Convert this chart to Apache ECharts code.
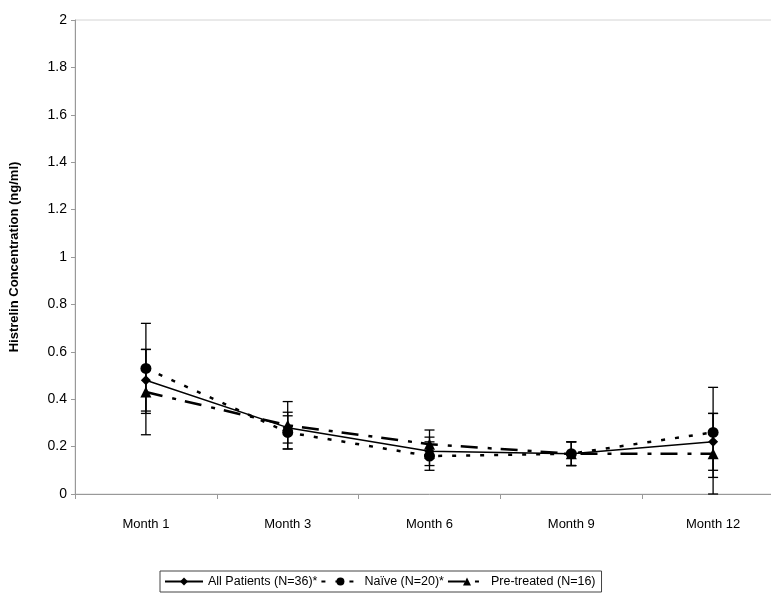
<!DOCTYPE html>
<html>
<head>
<meta charset="utf-8">
<script src="https://cdn.jsdelivr.net/npm/echarts@6/dist/echarts.min.js"></script>
<style>html,body{margin:0;padding:0;background:#fff;overflow:hidden;width:771px;height:599px;}#c{width:790px;height:599px;}</style>
</head>
<body>
<div id="c"></div>
<script>
var categories = ['Month 1', 'Month 3', 'Month 6', 'Month 9', 'Month 12'];
var allPatients = [0.48, 0.28, 0.18, 0.17, 0.22];
var naive = [0.53, 0.26, 0.16, 0.17, 0.26];
var preTreated = [0.43, 0.29, 0.21, 0.17, 0.17];
var allErr = [0.13, 0.065, 0.06, 0.05, 0.12];
var naiveErr = [0.19, 0.07, 0.06, 0.05, 0.19];
var preErr = [0.18, 0.10, 0.06, 0.05, 0.17];
var seriesNames = ['All Patients (N=36)*', 'Naïve (N=20)*', 'Pre-treated (N=16)'];
var yTicks = [0, 0.2, 0.4, 0.6, 0.8, 1, 1.2, 1.4, 1.6, 1.8, 2];

var FONT = '"Liberation Sans Narrow", "Arial Narrow", "Liberation Sans", Arial, sans-serif';

function errData(vals, errs) {
  return vals.map(function (v, i) { return [i, v - errs[i], v + errs[i]]; });
}
function errSeries(vals, errs) {
  return {
    type: 'custom',
    silent: true,
    z: 1,
    data: errData(vals, errs),
    renderItem: function (params, api) {
      var lo = api.coord([api.value(0), api.value(1)]);
      var hi = api.coord([api.value(0), api.value(2)]);
      var w = 5;
      var st = { stroke: '#000', lineWidth: 1.3 };
      return {
        type: 'group',
        children: [
          { type: 'line', shape: { x1: lo[0], y1: lo[1], x2: hi[0], y2: hi[1] }, style: st },
          { type: 'line', shape: { x1: lo[0] - w, y1: lo[1], x2: lo[0] + w, y2: lo[1] }, style: st },
          { type: 'line', shape: { x1: hi[0] - w, y1: hi[1], x2: hi[0] + w, y2: hi[1] }, style: st }
        ]
      };
    }
  };
}

var chart = echarts.init(document.getElementById('c'));
chart.setOption({
  backgroundColor: '#fff',
  animation: false,
  grid: { left: 75, right: 6, top: 20, bottom: 105, show: true, borderColor: '#d4d4d4', borderWidth: 1, backgroundColor: '#fff' },
  legend: {
    data: seriesNames,
    left: 160, top: 571,
    padding: [4, 6, 4, 4],
    itemGap: 3,
    itemWidth: 38, itemHeight: 10,
    borderColor: '#444', borderWidth: 1,
    textStyle: { fontFamily: FONT, fontSize: 12.5, color: '#000' }
  },
  xAxis: {
    type: 'category',
    data: categories,
    boundaryGap: true,
    axisLine: { lineStyle: { color: '#999', width: 1 } },
    axisTick: { show: true, length: 5, lineStyle: { color: '#999' } },
    axisLabel: { color: '#000', fontFamily: FONT, fontSize: 13, margin: 24 },
    splitLine: { show: false }
  },
  yAxis: {
    type: 'value',
    min: 0, max: 2, interval: 0.2,
    name: 'Histrelin Concentration (ng/ml)',
    nameLocation: 'middle',
    nameGap: 54,
    nameTextStyle: { fontFamily: FONT, fontSize: 13, fontWeight: 'bold', color: '#000' },
    axisLine: { show: true, lineStyle: { color: '#999' } },
    axisTick: { show: true, length: 4, lineStyle: { color: '#999' } },
    axisLabel: { color: '#000', fontFamily: 'Liberation Sans, Arial, sans-serif', fontSize: 14, margin: 8,
      formatter: function (v) { return String(Math.round(v * 10) / 10); } },
    splitLine: { show: false }
  },
  series: [
    errSeries(allPatients, allErr),
    errSeries(naive, naiveErr),
    errSeries(preTreated, preErr),
    {
      name: seriesNames[0], type: 'line', data: allPatients, z: 3,
      symbol: 'diamond', symbolSize: 10,
      lineStyle: { color: '#000', width: 1.5 },
      itemStyle: { color: '#000' }
    },
    {
      name: seriesNames[1], type: 'line', data: naive, z: 3,
      symbol: 'circle', symbolSize: 11,
      lineStyle: { color: '#000', width: 2.5, type: [4, 10] },
      itemStyle: { color: '#000' }
    },
    {
      name: seriesNames[2], type: 'line', data: preTreated, z: 3,
      symbol: 'triangle', symbolSize: 11,
      lineStyle: { color: '#000', width: 2.5, type: [17, 10, 4, 9] },
      itemStyle: { color: '#000' }
    }
  ]
});
</script>
</body>
</html>
